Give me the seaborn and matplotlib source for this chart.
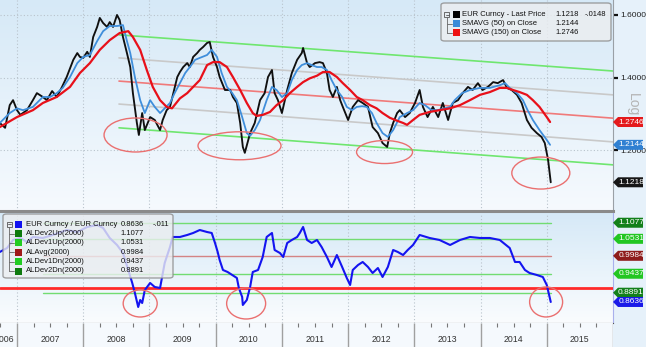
import matplotlib
matplotlib.use("Agg")
import numpy as np
import pandas as pd
import matplotlib.pyplot as plt
import seaborn as sns
from matplotlib.patches import Ellipse, Polygon, Rectangle, FancyBboxPatch
from matplotlib.colors import LinearSegmentedColormap
from matplotlib.ticker import NullLocator, FuncFormatter

sns.set_style("white")
plt.rcParams['font.family'] = ['Liberation Sans', 'DejaVu Sans']

# ------------------------------------------------------------------ data
price_t = [2006.74, 2006.82, 2006.89, 2006.94, 2007.00, 2007.05, 2007.15, 2007.24, 2007.30, 2007.39,
           2007.45, 2007.53, 2007.60, 2007.68, 2007.75, 2007.85, 2007.91, 2007.95, 2008.00, 2008.06,
           2008.10, 2008.15, 2008.21, 2008.25, 2008.30, 2008.36, 2008.40, 2008.45, 2008.51, 2008.55,
           2008.60, 2008.66, 2008.71, 2008.75, 2008.81, 2008.84, 2008.89, 2008.93, 2009.01, 2009.08,
           2009.16, 2009.20, 2009.26, 2009.31, 2009.36, 2009.42, 2009.46, 2009.51, 2009.57, 2009.61,
           2009.66, 2009.72, 2009.76, 2009.81, 2009.87, 2009.91, 2009.96, 2010.02, 2010.06, 2010.14,
           2010.22, 2010.26, 2010.32, 2010.37, 2010.41, 2010.44, 2010.52, 2010.59, 2010.67, 2010.74,
           2010.79, 2010.85, 2010.89, 2010.94, 2011.00, 2011.08, 2011.15, 2011.23, 2011.30, 2011.32,
           2011.38, 2011.42, 2011.50, 2011.57, 2011.62, 2011.68, 2011.72, 2011.77, 2011.83, 2011.88,
           2011.92, 2012.00, 2012.07, 2012.15, 2012.22, 2012.30, 2012.37, 2012.45, 2012.52, 2012.59,
           2012.63, 2012.68, 2012.74, 2012.78, 2012.86, 2012.93, 2013.01, 2013.08, 2013.13, 2013.20,
           2013.28, 2013.36, 2013.43, 2013.51, 2013.58, 2013.66, 2013.73, 2013.81, 2013.88, 2013.96,
           2014.03, 2014.11, 2014.19, 2014.26, 2014.34, 2014.40, 2014.47, 2014.55, 2014.62, 2014.70,
           2014.77, 2014.85, 2014.92, 2014.97, 2015.02, 2015.06]
price_v = [1.272, 1.259, 1.321, 1.335, 1.307, 1.294, 1.307, 1.335, 1.355, 1.344,
           1.335, 1.361, 1.344, 1.373, 1.402, 1.454, 1.475, 1.463, 1.460, 1.479,
           1.463, 1.526, 1.559, 1.589, 1.572, 1.559, 1.575, 1.559, 1.599, 1.582,
           1.526, 1.475, 1.432, 1.355, 1.272, 1.240, 1.299, 1.253, 1.288, 1.280,
           1.253, 1.280, 1.307, 1.316, 1.355, 1.402, 1.417, 1.432, 1.444, 1.432,
           1.463, 1.475, 1.485, 1.494, 1.507, 1.510, 1.463, 1.432, 1.402, 1.364,
           1.364, 1.344, 1.327, 1.272, 1.209, 1.194, 1.245, 1.272, 1.335, 1.355,
           1.402, 1.423, 1.355, 1.335, 1.299, 1.364, 1.414, 1.454, 1.475, 1.491,
           1.444, 1.432, 1.444, 1.447, 1.444, 1.414, 1.364, 1.344, 1.373, 1.335,
           1.316, 1.280, 1.316, 1.335, 1.327, 1.316, 1.261, 1.245, 1.219, 1.209,
           1.245, 1.272, 1.299, 1.307, 1.288, 1.299, 1.327, 1.364, 1.316, 1.288,
           1.316, 1.288, 1.327, 1.280, 1.327, 1.335, 1.355, 1.373, 1.364, 1.384,
           1.364, 1.373, 1.387, 1.384, 1.393, 1.370, 1.364, 1.350, 1.327, 1.280,
           1.259, 1.245, 1.235, 1.219, 1.176, 1.1218]

sma50_t = [2006.74, 2006.89, 2007.00, 2007.09, 2007.24, 2007.39, 2007.50, 2007.60, 2007.69, 2007.80,
           2007.91, 2008.00, 2008.10, 2008.21, 2008.30, 2008.40, 2008.51, 2008.60, 2008.66, 2008.71,
           2008.78, 2008.86, 2008.93, 2009.01, 2009.08, 2009.16, 2009.23, 2009.31, 2009.38, 2009.46,
           2009.54, 2009.61, 2009.69, 2009.76, 2009.87, 2009.94, 2010.02, 2010.09, 2010.17, 2010.25,
           2010.32, 2010.40, 2010.47, 2010.52, 2010.59, 2010.67, 2010.77, 2010.85, 2010.92, 2011.00,
           2011.08, 2011.15, 2011.23, 2011.30, 2011.38, 2011.45, 2011.53, 2011.60, 2011.68, 2011.75,
           2011.83, 2011.91, 2011.98, 2012.06, 2012.13, 2012.21, 2012.28, 2012.36, 2012.43, 2012.52,
           2012.60, 2012.68, 2012.78, 2012.89, 2012.98, 2013.08, 2013.16, 2013.26, 2013.35, 2013.46,
           2013.54, 2013.61, 2013.72, 2013.84, 2013.99, 2014.14, 2014.29, 2014.37, 2014.44, 2014.55,
           2014.64, 2014.71, 2014.79, 2014.89, 2015.00, 2015.05]
sma50_v = [1.272, 1.299, 1.312, 1.307, 1.316, 1.344, 1.344, 1.355, 1.370, 1.402,
           1.444, 1.463, 1.469, 1.513, 1.545, 1.562, 1.562, 1.565, 1.513, 1.475,
           1.402, 1.335, 1.299, 1.335, 1.316, 1.299, 1.312, 1.327, 1.355, 1.384,
           1.414, 1.432, 1.454, 1.460, 1.469, 1.485, 1.463, 1.414, 1.373, 1.355,
           1.335, 1.288, 1.245, 1.238, 1.253, 1.280, 1.335, 1.373, 1.364, 1.344,
           1.355, 1.393, 1.423, 1.438, 1.444, 1.438, 1.432, 1.432, 1.423, 1.393,
           1.364, 1.344, 1.316, 1.307, 1.316, 1.318, 1.316, 1.299, 1.272, 1.245,
           1.235, 1.253, 1.288, 1.299, 1.307, 1.327, 1.321, 1.307, 1.307, 1.312,
           1.316, 1.335, 1.355, 1.364, 1.370, 1.370, 1.378, 1.384, 1.370, 1.355,
           1.335, 1.307, 1.280, 1.253, 1.227, 1.2144]

sma150_t = [2006.74, 2007.00, 2007.24, 2007.39, 2007.60, 2007.80, 2007.95, 2008.10, 2008.25, 2008.40,
            2008.55, 2008.68, 2008.75, 2008.86, 2008.96, 2009.05, 2009.16, 2009.26, 2009.34, 2009.46,
            2009.57, 2009.66, 2009.76, 2009.87, 2009.96, 2010.06, 2010.17, 2010.26, 2010.37, 2010.47,
            2010.56, 2010.62, 2010.71, 2010.82, 2010.92, 2011.02, 2011.12, 2011.23, 2011.32, 2011.42,
            2011.53, 2011.62, 2011.72, 2011.83, 2011.92, 2012.03, 2012.13, 2012.22, 2012.33, 2012.43,
            2012.52, 2012.63, 2012.74, 2012.83, 2012.89, 2012.98, 2013.08, 2013.23, 2013.38, 2013.54,
            2013.69, 2013.84, 2013.99, 2014.14, 2014.29, 2014.40, 2014.49, 2014.59, 2014.70, 2014.79,
            2014.89, 2015.00, 2015.05]
sma150_v = [1.261, 1.288, 1.307, 1.327, 1.344, 1.373, 1.414, 1.444, 1.485, 1.516,
            1.539, 1.545, 1.526, 1.485, 1.423, 1.373, 1.335, 1.316, 1.312, 1.340,
            1.355, 1.373, 1.393, 1.438, 1.447, 1.447, 1.432, 1.402, 1.364, 1.327,
            1.299, 1.291, 1.294, 1.302, 1.321, 1.335, 1.355, 1.373, 1.387, 1.398,
            1.406, 1.417, 1.417, 1.402, 1.384, 1.364, 1.344, 1.335, 1.321, 1.312,
            1.299, 1.286, 1.278, 1.272, 1.267, 1.280, 1.294, 1.302, 1.307, 1.312,
            1.321, 1.335, 1.350, 1.358, 1.370, 1.370, 1.364, 1.358, 1.350, 1.335,
            1.316, 1.288, 1.2746]

ratio_t = [2006.74, 2006.85, 2006.94, 2007.05, 2007.15, 2007.24, 2007.39, 2007.54, 2007.75, 2007.91,
           2008.06, 2008.21, 2008.30, 2008.40, 2008.51, 2008.60, 2008.68, 2008.74, 2008.78, 2008.83,
           2008.86, 2008.89, 2008.93, 2009.01, 2009.08, 2009.16, 2009.23, 2009.31, 2009.35, 2009.46,
           2009.57, 2009.66, 2009.76, 2009.87, 2009.94, 2009.99, 2010.03, 2010.06, 2010.11, 2010.18,
           2010.25, 2010.32, 2010.35, 2010.40, 2010.41, 2010.47, 2010.52, 2010.56, 2010.64, 2010.71,
           2010.77, 2010.85, 2010.89, 2010.97, 2011.02, 2011.08, 2011.15, 2011.23, 2011.27, 2011.32,
           2011.38, 2011.45, 2011.53, 2011.60, 2011.68, 2011.75, 2011.83, 2011.91, 2011.98, 2012.03,
           2012.07, 2012.15, 2012.22, 2012.30, 2012.37, 2012.45, 2012.52, 2012.60, 2012.68, 2012.75,
           2012.83, 2012.90, 2012.98, 2013.08, 2013.23, 2013.38, 2013.54, 2013.69, 2013.84, 2013.99,
           2014.14, 2014.29, 2014.44, 2014.52, 2014.59, 2014.67, 2014.74, 2014.85, 2014.94, 2015.00,
           2015.06]
ratio_v = [1.0105, 1.0232, 1.0493, 1.0559, 1.0427, 1.0592, 1.0559, 1.0659, 1.0827, 1.0759,
           1.0930, 1.0999, 1.0896, 1.0559, 1.0329, 1.0072, 0.9549, 0.9167, 0.8883, 0.8501,
           0.8690, 0.8608, 0.8967, 0.9167, 0.9052, 0.9024, 0.9761, 1.0264, 1.0592, 1.0592,
           1.0659, 1.0726, 1.0827, 1.0759, 1.0726, 1.0394, 1.0105, 0.9853, 0.9549, 0.9489,
           0.9400, 0.9312, 0.9024, 0.8772, 0.8555, 0.8690, 0.9052, 0.9489, 0.9549, 0.9947,
           1.0592, 1.0726, 1.0168, 1.0072, 0.9947, 1.0394, 1.0493, 1.0592, 1.0726, 1.0930,
           1.0493, 1.0394, 1.0493, 1.0264, 0.9947, 0.9639, 1.0009, 0.9639, 0.9312, 0.9109,
           0.9549, 0.9700, 0.9792, 0.9639, 0.9459, 0.9609, 0.9341, 0.9639, 1.0168, 1.0105,
           1.0009, 1.0168, 1.0329, 1.0659, 1.0559, 1.0493, 1.0329, 1.0493, 1.0592, 1.0559,
           1.0559, 1.0493, 1.0232, 0.9792, 0.9792, 0.9549, 0.9459, 0.9400, 0.9341, 0.9109,
           0.8636]

# regression channel (top panel)
channel_t = [2008.54, 2016.0]
channel_up2 = [1.533, 1.420]
channel_up1 = [1.460, 1.350]
channel_mid = [1.390, 1.285]
channel_dn1 = [1.324, 1.222]
channel_dn2 = [1.259, 1.164]

# bands (bottom panel)
band_t = [2007.39, 2015.06]
band_levels = [1.1077, 1.0531, 0.9984, 0.9437, 0.8891]
band_names = ["ALDev2Up(2000)", "ALDev1Up(2000)", "ALAvg(2000)", "ALDev1Dn(2000)", "ALDev2Dn(2000)"]
support_level = 0.903

# highlighted lows
top_circle_t = [2008.79, 2010.36, 2012.55, 2014.91]
top_circle_v = [1.240, 1.212, 1.196, 1.144]
bot_circle_t = [2008.86, 2010.46, 2014.99]
bot_circle_v = [0.8595, 0.8595, 0.8636]

price_ticks = [1.6, 1.4, 1.2]
year_bounds = list(range(2007, 2016))
year_labels = list(range(2006, 2016))

last_price, last_change = 1.1218, -0.0148
sma50_last, sma150_last = 1.2144, 1.2746
ratio_last, ratio_change = 0.8636, -0.011

# ------------------------------------------------------------------ layout
W, H = 646, 347
T0, T1 = 2006.743, 2016.0
LEG_FS = 5.5
fig = plt.figure(figsize=(W / 100, H / 100), dpi=100, facecolor='#e6f1fa')


def add_ax(x0, y0, x1, y1, **kw):
    return fig.add_axes([x0 / W, 1 - y1 / H, (x1 - x0) / W, (y1 - y0) / H], **kw)


def background(x0, y0, x1, y1, top, bottom):
    bg = add_ax(x0, y0, x1, y1)
    cmap = LinearSegmentedColormap.from_list('g', [bottom, top])
    bg.imshow(np.linspace(0, 1, 256).reshape(-1, 1), extent=[0, 1, 0, 1], cmap=cmap,
              aspect='auto', origin='lower', interpolation='bicubic')
    bg.set_axis_off()
    return bg


background(0, 0, 613, 211, '#d6e9f7', '#f6fafe')
background(0, 213, 613, 323, '#d6e9f7', '#fafcfe')
ax_top = add_ax(0, 0, 613, 211)
ax_bot = add_ax(0, 213, 613, 323)
ax_x = add_ax(0, 323, 613, 347)

for ax in (ax_top, ax_bot):
    ax.set_facecolor('none')
    ax.set_yscale('log')
    ax.set_xlim(T0, T1)

ax_top.set_ylim(1.0556, 1.6505)
ax_bot.set_ylim(0.8084, 1.1421)

# ------------------------------------------------------------------ top panel
for vals, col in [(channel_up2, '#6fe66f'), (channel_up1, '#c9c9c9'), (channel_mid, '#f07a7a'),
                  (channel_dn1, '#c9c9c9'), (channel_dn2, '#6fe66f')]:
    sns.lineplot(x=channel_t, y=vals, ax=ax_top, color=col, lw=1.2, zorder=2)

sns.lineplot(x=price_t, y=price_v, ax=ax_top, color='#101010', lw=1.35, zorder=4)
sns.lineplot(x=sma50_t, y=sma50_v, ax=ax_top, color='#3f8edb', lw=1.3, zorder=5)
sns.lineplot(x=sma150_t, y=sma150_v, ax=ax_top, color='#e8101a', lw=1.6, zorder=6)

ax_top.set_xlim(T0, T1)
ax_top.set_ylim(1.0556, 1.6505)
ax_top.set_xticks(year_bounds)
ax_top.yaxis.set_ticks_position('right')
ax_top.set_yticks(price_ticks)
ax_top.yaxis.set_minor_locator(NullLocator())
ax_top.yaxis.set_major_formatter(FuncFormatter(lambda v, p: f"{v:.4f}"))
ax_top.tick_params(axis='y', which='major', direction='out', length=3.5, width=1.6, color='#111',
                   labelsize=6, pad=1.5, labelcolor='#222', labelleft=False, labelright=True)
ax_top.tick_params(axis='x', length=0, labelbottom=False)
ax_top.grid(True, which='major', color='#b9c3cc', ls=(0, (1, 2)), lw=0.8)
ax_top.set_xlabel('')
ax_top.set_ylabel('')
for s in ('left', 'top'):
    ax_top.spines[s].set_visible(False)
ax_top.spines['right'].set_color('#9aa0a6')
ax_top.spines['bottom'].set_color('#8a8a8a')
ax_top.spines['bottom'].set_linewidth(2.2)

# ------------------------------------------------------------------ bottom panel
band_cols = ['#72dc72', '#72dc72', '#d48484', '#72dc72', '#72dc72']
for lvl, col in zip(band_levels, band_cols):
    sns.lineplot(x=band_t, y=[lvl, lvl], ax=ax_bot, color=col, lw=1.0, zorder=2)
sns.lineplot(x=[T0, T1], y=[support_level, support_level], ax=ax_bot, color='#ff2a2a', lw=2.0, zorder=3)
sns.lineplot(x=ratio_t, y=ratio_v, ax=ax_bot, color='#1414f0', lw=1.5, zorder=5)

ax_bot.set_xlim(T0, T1)
ax_bot.set_ylim(0.8084, 1.1421)
ax_bot.set_xticks(year_bounds)
ax_bot.set_yticks([])
ax_bot.yaxis.set_minor_locator(NullLocator())
ax_bot.tick_params(axis='both', length=0, labelbottom=False, labelleft=False)
ax_bot.grid(True, axis='x', color='#b9c3cc', ls=(0, (1, 2)), lw=0.8)
ax_bot.set_xlabel('')
ax_bot.set_ylabel('')
for s in ('left', 'top'):
    ax_bot.spines[s].set_visible(False)
ax_bot.spines['right'].set_color('#a9b0ec')
ax_bot.spines['bottom'].set_color('#555555')

# ------------------------------------------------------------------ x axis strip
ax_x.set_xlim(T0, T1)
ax_x.set_ylim(0, 1)
ax_x.set_facecolor('#f5f9fd')
ax_x.vlines(year_bounds + [2016], 0, 1, color='#a0a0a0', lw=1.0)
quarters = [y + q / 4 for y in range(2006, 2016) for q in (1, 2, 3) if T0 < y + q / 4 < T1]
ax_x.vlines(quarters, 1 - 4 / 24, 1, color='#777777', lw=0.8)
for y in year_labels:
    cx = y + 0.5 if y > 2006 else T0 + 4.5 / 66.25
    ax_x.text(cx, 0.3, str(y), ha='center', va='center', fontsize=6.3, color='#333333')
ax_x.set_xticks([])
ax_x.set_yticks([])
for s in ax_x.spines.values():
    s.set_visible(False)


# ------------------------------------------------------------------ circles
def ellipse(ax, t, v, w_px, h_px):
    cx, cy = ax.transAxes.inverted().transform(ax.transData.transform((t, v)))
    bb = ax.get_window_extent()
    ax.add_patch(Ellipse((cx, cy), w_px / bb.width, h_px / bb.height, transform=ax.transAxes,
                         fill=False, ec='#ea7070', lw=1.0, zorder=7, clip_on=False))


for t, v, w, h in zip(top_circle_t, top_circle_v, [63, 83, 56, 58], [34, 28, 23, 32]):
    ellipse(ax_top, t, v, w, h)
for t, v, w, h in zip(bot_circle_t, bot_circle_v, [34, 39, 33], [27, 31, 30]):
    ellipse(ax_bot, t, v, w, h)


# ------------------------------------------------------------------ figure-level helpers
def fx(x):
    return x / W


def fy(y):
    return 1 - y / H


def tag(ax, v, text, color):
    ypx = ax.transData.transform((T1, v))[1]
    pts = np.array([(613, ypx), (618, ypx + 5), (643, ypx + 5), (643, ypx - 5), (618, ypx - 5)])
    fig.add_artist(Polygon(pts / [W, H], closed=True, transform=fig.transFigure, fc=color,
                           ec='none', zorder=10))
    fig.text(631 / W, ypx / H, text, color='white', fontsize=6, ha='center', va='center',
             zorder=11)


tag(ax_top, sma150_last, f"{sma150_last:.4f}", '#e41a1c')
tag(ax_top, sma50_last, f"{sma50_last:.4f}", '#2f80d2')
tag(ax_top, last_price, f"{last_price:.4f}", '#161616')
tag_cols = ['#13801a', '#22c622', '#8e1c1c', '#22c622', '#13801a']
for lvl, col in zip(band_levels, tag_cols):
    tag(ax_bot, lvl, f"{lvl:.4f}", col)
tag(ax_bot, ratio_last, f"{ratio_last:.4f}", '#1a1ae8')

fig.text(fx(633), fy(105), 'Log', rotation=270, color='#b4b4b4', fontsize=10, ha='center',
         va='center')


def chg(c):
    s = f"{c:.4f}".rstrip('0')
    return s.replace('0.', '.')


def legend_box(x0, y0, x1, y1, rows, row_y, sq_x, txt_x, val_x, val_ha, chg_x, change):
    fig.add_artist(FancyBboxPatch((fx(x0), fy(y1)), fx(x1 - x0), (y1 - y0) / H,
                                  boxstyle='round,pad=0,rounding_size=0.006', fc='#eceef0',
                                  ec='#8c8c8c', lw=1.0, alpha=0.8, transform=fig.transFigure,
                                  zorder=8))
    # tree glyph
    tx = sq_x - 6
    fig.add_artist(Rectangle((fx(tx - 2.5), fy(row_y[0] + 2.5)), 5 / W, 5 / H, fill=False,
                             ec='#555', lw=0.6, transform=fig.transFigure, zorder=9))
    fig.add_artist(plt.Line2D([fx(tx - 1.5), fx(tx + 1.5)], [fy(row_y[0])] * 2, color='#555',
                              lw=0.6, transform=fig.transFigure, zorder=9))
    fig.add_artist(plt.Line2D([fx(tx), fx(tx)], [fy(row_y[0] + 2.5), fy(row_y[-1])],
                              color='#666', lw=0.6, transform=fig.transFigure, zorder=9))
    for i, ((label, val, col), ry) in enumerate(zip(rows, row_y)):
        if i > 0:
            fig.add_artist(plt.Line2D([fx(tx), fx(sq_x - 1)], [fy(ry)] * 2, color='#666',
                                      lw=0.6, transform=fig.transFigure, zorder=9))
        fig.add_artist(Rectangle((fx(sq_x), fy(ry + 3.5)), 7 / W, 7 / H, fc=col, ec='none',
                                 transform=fig.transFigure, zorder=9))
        fig.text(fx(txt_x), fy(ry), label, fontsize=LEG_FS, color='#111', ha='left',
                 va='center', zorder=9)
        fig.text(fx(val_x), fy(ry), val, fontsize=LEG_FS, color='#111', ha=val_ha,
                 va='center', zorder=9)
    fig.text(fx(chg_x), fy(row_y[0]), change, fontsize=LEG_FS, color='#111', ha='left',
             va='center', zorder=9)


legend_box(441, 3, 611, 41,
           [("EUR Curncy - Last Price", f"{last_price:.4f}", '#000000'),
            ("SMAVG (50) on Close", f"{sma50_last:.4f}", '#3a8ad8'),
            ("SMAVG (150) on Close", f"{sma150_last:.4f}", '#ee1111')],
           [14.5, 23.5, 32.5], 453, 462, 555, 'left', 585, chg(last_change))

legend_box(3, 214, 173, 278,
           [("EUR Curncy / EUR Curncy", f"{ratio_last:.4f}", '#1010f0')] +
           [(n, f"{l:.4f}", c) for n, l, c in zip(band_names, band_levels,
                                                   ['#0e7a0e', '#22cc22', '#a01818', '#22cc22',
                                                    '#0e7a0e'])],
           [224.3, 233.7, 242.7, 252.3, 261.7, 271.0], 15, 26, 144, 'right', 153,
           chg(ratio_change))

fig.savefig('out.png', dpi=100, facecolor=fig.get_facecolor())
